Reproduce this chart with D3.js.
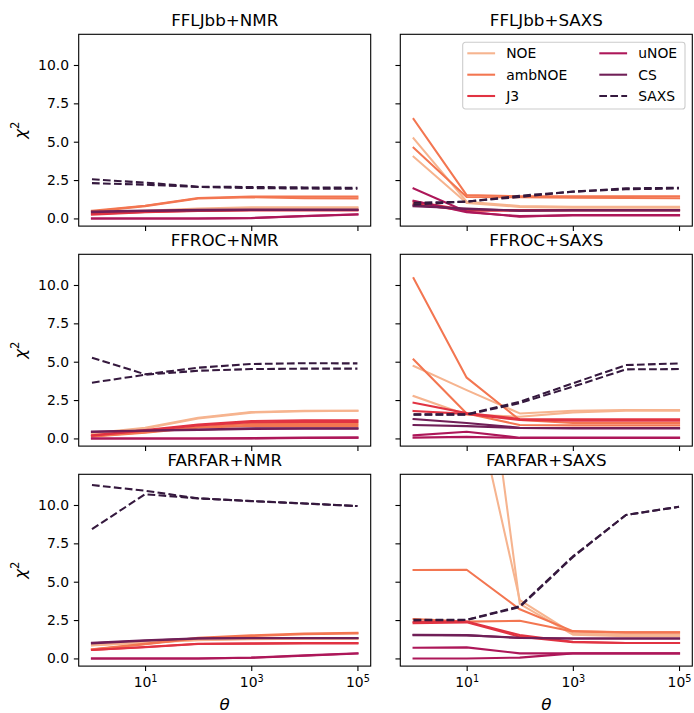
<!DOCTYPE html>
<html>
<head>
<meta charset="utf-8">
<script src="https://cdn.jsdelivr.net/npm/d3@7"></script>
<style>
  html, body { margin: 0; padding: 0; background: #ffffff; }
  svg { display: block; font-family: "DejaVu Sans", sans-serif; }
</style>
</head>
<body>
<svg id="chart" width="694" height="713"></svg>
<script>
// Regularisation strength on the x axis
const thetaValues = [1, 10, 100, 1000, 10000, 100000];
const xTickValues = [10, 1000, 100000];
const yTickValues = [0, 2.5, 5, 7.5, 10];

const observableNames = ["NOE", "ambNOE", "J3", "uNOE", "CS", "SAXS"];
const panelTitles = ["FFLJbb+NMR", "FFLJbb+SAXS", "FFROC+NMR", "FFROC+SAXS", "FARFAR+NMR", "FARFAR+SAXS"];

// chi^2 per observable, two runs each, in the order of observableNames
const ffljbbNmr = [
  [0.40, 0.50, 0.65, 0.72, 0.72, 0.72], [0.35, 0.45, 0.60, 0.65, 0.66, 0.66],
  [0.50, 0.83, 1.33, 1.42, 1.42, 1.42], [0.45, 0.80, 1.30, 1.38, 1.32, 1.30],
  [0.30, 0.42, 0.50, 0.55, 0.55, 0.55], [0.25, 0.40, 0.48, 0.52, 0.52, 0.52],
  [0.00, 0.00, 0.00, 0.02, 0.15, 0.25], [0.00, 0.00, 0.00, 0.03, 0.16, 0.27],
  [0.45, 0.52, 0.56, 0.58, 0.58, 0.58], [0.40, 0.48, 0.52, 0.55, 0.55, 0.55],
  [2.55, 2.33, 2.07, 2.05, 2.02, 2.00], [2.30, 2.20, 2.05, 1.98, 1.95, 1.93]
];
const ffljbbSaxs = [
  [5.22, 1.09, 0.81, 0.76, 0.76, 0.76], [4.02, 1.00, 0.75, 0.70, 0.70, 0.70],
  [6.48, 1.52, 1.45, 1.45, 1.45, 1.45], [4.61, 1.40, 1.38, 1.35, 1.33, 1.31],
  [1.10, 0.55, 0.55, 0.55, 0.55, 0.55], [0.95, 0.50, 0.50, 0.52, 0.52, 0.52],
  [1.96, 0.44, 0.11, 0.22, 0.22, 0.22], [1.15, 0.40, 0.15, 0.20, 0.20, 0.20],
  [0.80, 0.65, 0.50, 0.55, 0.55, 0.55], [0.85, 0.60, 0.52, 0.52, 0.52, 0.52],
  [1.02, 1.09, 1.48, 1.74, 1.96, 2.00], [0.90, 1.10, 1.40, 1.75, 1.90, 1.95]
];
const ffrocNmr = [
  [0.33, 0.70, 1.35, 1.72, 1.80, 1.80], [0.30, 0.65, 1.30, 1.68, 1.78, 1.80],
  [0.15, 0.40, 0.75, 0.95, 0.95, 0.95], [0.12, 0.38, 0.70, 0.82, 0.82, 0.82],
  [0.20, 0.55, 0.90, 1.13, 1.18, 1.18], [0.18, 0.50, 0.85, 1.05, 1.08, 1.08],
  [0.00, 0.00, 0.00, 0.02, 0.05, 0.05], [0.00, 0.00, 0.00, 0.00, 0.03, 0.05],
  [0.45, 0.52, 0.58, 0.66, 0.66, 0.66], [0.42, 0.50, 0.55, 0.62, 0.64, 0.64],
  [5.26, 4.18, 4.61, 4.85, 4.90, 4.89], [3.63, 4.15, 4.41, 4.52, 4.55, 4.55]
];
const ffrocSaxs = [
  [4.72, 3.15, 1.63, 1.80, 1.85, 1.85], [2.76, 1.55, 1.41, 1.70, 1.80, 1.80],
  [10.44, 3.96, 1.20, 1.00, 1.00, 1.00], [5.15, 1.63, 0.87, 0.85, 0.85, 0.85],
  [2.33, 1.65, 1.27, 1.25, 1.25, 1.25], [1.79, 1.60, 1.20, 1.15, 1.15, 1.15],
  [0.20, 0.43, 0.05, 0.05, 0.05, 0.05], [0.05, 0.10, 0.03, 0.03, 0.03, 0.03],
  [1.26, 1.00, 0.70, 0.68, 0.68, 0.68], [0.87, 0.80, 0.68, 0.65, 0.65, 0.65],
  [1.57, 1.57, 2.39, 3.59, 4.78, 4.89], [1.55, 1.55, 2.30, 3.37, 4.50, 4.52]
];
const farfarNmr = [
  [0.87, 1.05, 1.20, 1.28, 1.30, 1.30], [0.85, 1.02, 1.18, 1.25, 1.28, 1.28],
  [0.60, 0.95, 1.35, 1.50, 1.62, 1.67], [0.58, 0.92, 1.30, 1.45, 1.58, 1.62],
  [0.55, 0.75, 0.96, 0.98, 1.00, 1.00], [0.55, 0.73, 0.94, 0.96, 0.98, 0.98],
  [0.00, 0.00, 0.00, 0.05, 0.20, 0.33], [0.00, 0.00, 0.00, 0.04, 0.18, 0.32],
  [0.98, 1.15, 1.30, 1.31, 1.31, 1.31], [1.02, 1.18, 1.32, 1.33, 1.33, 1.33],
  [11.30, 10.93, 10.43, 10.26, 10.10, 9.93], [8.43, 10.70, 10.43, 10.25, 10.10, 9.93]
];
const farfarSaxs = [
  [26.0, 19.2, 3.80, 1.63, 1.55, 1.55], [38.0, 29.8, 3.55, 1.55, 1.45, 1.45],
  [5.76, 5.78, 3.20, 1.78, 1.70, 1.70], [2.57, 2.40, 2.45, 1.75, 1.70, 1.70],
  [2.39, 2.40, 1.52, 1.09, 1.00, 1.00], [2.30, 2.35, 1.42, 1.05, 1.00, 1.00],
  [0.70, 0.72, 0.33, 0.33, 0.33, 0.33], [0.00, 0.00, 0.05, 0.33, 0.33, 0.33],
  [1.52, 1.50, 1.35, 1.30, 1.30, 1.30], [1.54, 1.52, 1.33, 1.30, 1.30, 1.30],
  [2.52, 2.52, 3.40, 6.65, 9.35, 9.89], [2.48, 2.50, 3.35, 6.60, 9.35, 9.88]
];

const panelData = [ffljbbNmr, ffljbbSaxs, ffrocNmr, ffrocSaxs, farfarNmr, farfarSaxs];

// Styling
const observableColors = ["#f6b48f", "#f37651", "#e13342", "#ad1759", "#701f57", "#35193e"];
const lineWidth = 2.08;
const dashPattern = "7.7,3.3";
const tickFont = 13.9;
const titleFont = 16.7;
const labelFont = 16.7;

const colLeft = [78.7, 400.3];
const rowTop = [34.3, 254.3, 474.3];
const panelW = 292;
const panelH = 191.8;
const tickLen = 4.86;

const svg = d3.select("#chart");

const x = d3.scaleLog().domain([Math.pow(10, -0.25), Math.pow(10, 5.25)]).range([0, panelW]);
const y = d3.scaleLinear().domain([-0.5, 12]).range([panelH, 0]);

const line = d3.line()
  .x((d, i) => x(thetaValues[i]))
  .y(d => y(d));

panelData.forEach((series, p) => {
  const col = p % 2, row = Math.floor(p / 2);
  const g = svg.append("g").attr("transform", `translate(${colLeft[col]},${rowTop[row]})`);

  const clipId = "clip" + p;
  g.append("clipPath").attr("id", clipId)
    .append("rect").attr("width", panelW).attr("height", panelH);

  const lines = g.append("g").attr("clip-path", `url(#${clipId})`);
  series.forEach((vals, s) => {
    const o = Math.floor(s / 2);
    const isSaxs = observableNames[o] === "SAXS";
    lines.append("path")
      .attr("d", line(vals))
      .attr("fill", "none")
      .attr("stroke", observableColors[o])
      .attr("stroke-width", lineWidth)
      .attr("stroke-linejoin", "round")
      .attr("stroke-linecap", isSaxs ? "butt" : "square")
      .attr("stroke-dasharray", isSaxs ? dashPattern : null);
  });

  // x axis
  const xAxis = d3.axisBottom(x).tickValues(xTickValues).tickSize(tickLen).tickPadding(4.86)
    .tickFormat(() => "");
  const gx = g.append("g").attr("transform", `translate(0,${panelH})`).call(xAxis);
  if (row === 2) {
    gx.selectAll(".tick text").each(function (d) {
      const t = d3.select(this);
      t.attr("dy", null).attr("y", 20.8).attr("font-size", tickFont);
      t.append("tspan").text("10");
      t.append("tspan").attr("dy", -4.6).attr("font-size", 9.7).text(Math.round(Math.log10(d)));
    });
  }

  // y axis
  const yAxis = d3.axisLeft(y).tickValues(yTickValues).tickSize(tickLen).tickPadding(4.86)
    .tickFormat(col === 0 ? d3.format(".1f") : () => "");
  const gy = g.append("g").call(yAxis);

  [gx, gy].forEach(a => {
    a.select(".domain").remove();
    a.attr("font-family", "DejaVu Sans").attr("font-size", tickFont);
    a.selectAll(".tick line").attr("stroke", "#000").attr("stroke-width", 1.1);
    a.selectAll(".tick text").attr("fill", "#000");
  });

  // frame
  g.append("rect").attr("width", panelW).attr("height", panelH)
    .attr("fill", "none").attr("stroke", "#000").attr("stroke-width", 1.1);

  // title
  g.append("text").attr("x", panelW / 2).attr("y", -8.4)
    .attr("text-anchor", "middle").attr("font-size", titleFont).attr("fill", "#000")
    .text(panelTitles[p]);

  // y label
  if (col === 0) {
    const yl = g.append("text")
      .attr("transform", `translate(${26 - colLeft[0]},${panelH / 2}) rotate(-90)`)
      .attr("text-anchor", "middle").attr("font-size", labelFont).attr("fill", "#000");
    yl.append("tspan").attr("font-style", "italic").text("χ");
    yl.append("tspan").attr("dy", -7).attr("font-size", 11.7).text("2");
  }

  // x label
  if (row === 2) {
    g.append("text").attr("x", panelW / 2).attr("y", panelH + 43.5)
      .attr("text-anchor", "middle").attr("font-size", labelFont)
      .attr("font-style", "italic").attr("fill", "#000").text("θ");
  }

  // legend in the upper-right panel
  if (p === 1) {
    const lg = g.append("g").attr("transform", `translate(${462.7 - colLeft[1]},${42.3 - rowTop[0]})`);
    lg.append("rect").attr("width", 222.3).attr("height", 66.7).attr("rx", 2.8)
      .attr("fill", "#ffffff").attr("fill-opacity", 0.8)
      .attr("stroke", "#cccccc").attr("stroke-width", 1.1);
    const colX = [4.6, 136.6];
    const rowY = [11, 32.4, 53.7];
    observableNames.forEach((name, i) => {
      const c = Math.floor(i / 3), r = i % 3;
      const isSaxs = name === "SAXS";
      lg.append("line")
        .attr("x1", colX[c]).attr("x2", colX[c] + 27.8)
        .attr("y1", rowY[r]).attr("y2", rowY[r])
        .attr("stroke", observableColors[i]).attr("stroke-width", lineWidth)
        .attr("stroke-dasharray", isSaxs ? dashPattern : null);
      lg.append("text").attr("x", colX[c] + 27.8 + 11.1).attr("y", rowY[r] + 5)
        .attr("font-size", tickFont).attr("fill", "#000").text(name);
    });
  }
});
</script>
</body>
</html>
